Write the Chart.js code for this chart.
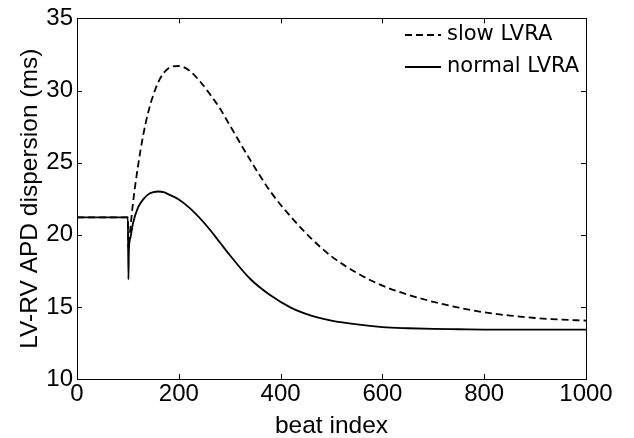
<!DOCTYPE html>
<html lang="en">
  <head>
    <meta charset="UTF-8" />
    <title>LV-RV APD dispersion</title>
    <script src="https://cdn.jsdelivr.net/npm/chart.js"></script>
    <style>
      * {
        margin: 0;
        padding: 0;
      }
      body {
        background: #fff;
      }
    </style>
  </head>
  <body>
    <canvas id="chart" width="634" height="438"></canvas>

    <script>
      // beat index samples (shared by both curves)
      var beats = [0, 100, 101, 102, 105, 110, 120, 130, 140, 150, 160, 170, 180, 200, 220, 240, 260, 280, 300,
        340, 380, 420, 460, 500, 550, 600, 650, 700, 750, 800, 850, 900, 950, 1000];

      // dispersion (ms), slow LVRA (dashed)
      var slowLVRA = [21.2, 21.2, 19.0, 19.3, 20.5, 22.2, 24.8, 26.9, 28.5, 29.7, 30.6, 31.2, 31.55, 31.7, 31.4, 30.7, 29.8, 28.8, 27.6,
        25.2, 23.0, 21.25, 19.75, 18.5, 17.35, 16.47, 15.85, 15.35, 14.95, 14.62, 14.4, 14.23, 14.12, 14.05];

      // dispersion (ms), normal LVRA (solid)
      var normalLVRA = [21.2, 21.2, 16.9, 19.0, 19.8, 20.8, 21.9, 22.45, 22.8, 22.95, 23.0, 22.95, 22.8, 22.45, 21.9, 21.2, 20.4, 19.5, 18.6,
        16.95, 15.8, 14.95, 14.4, 14.05, 13.78, 13.6, 13.52, 13.47, 13.45, 13.43, 13.42, 13.42, 13.42, 13.42];

      var xTicks = [0, 200, 400, 600, 800, 1000];
      var yTicks = [10, 15, 20, 25, 30, 35];

      function toPoints(ys) {
        return beats.map(function (b, i) {
          return { x: b, y: ys[i] };
        });
      }

      var tickFont = { family: "'Liberation Sans', Arial, sans-serif", size: 24 };
      var titleFont = { family: "'Liberation Sans', Arial, sans-serif", size: 24.5 };

      // box round the plot, inward ticks on all sides, and the legend
      var matlabFrame = {
        id: "matlabFrame",
        afterDraw: function (chart) {
          var ctx = chart.ctx;
          var a = chart.chartArea;
          var xs = chart.scales.x;
          var ys = chart.scales.y;
          ctx.save();
          ctx.strokeStyle = "#000";
          ctx.lineWidth = 1;
          ctx.setLineDash([]);
          ctx.strokeRect(Math.round(a.left) + 0.5, Math.round(a.top) + 0.5,
            Math.round(a.right - a.left), Math.round(a.bottom - a.top));
          var len = 5;
          ctx.beginPath();
          xTicks.forEach(function (v) {
            var px = Math.round(xs.getPixelForValue(v)) + 0.5;
            ctx.moveTo(px, a.bottom);
            ctx.lineTo(px, a.bottom - len);
            ctx.moveTo(px, a.top);
            ctx.lineTo(px, a.top + len);
          });
          yTicks.forEach(function (v) {
            var py = Math.round(ys.getPixelForValue(v)) + 0.5;
            ctx.moveTo(a.left, py);
            ctx.lineTo(a.left + len, py);
            ctx.moveTo(a.right, py);
            ctx.lineTo(a.right - len, py);
          });
          ctx.stroke();

          // legend
          ctx.font = "21px 'DejaVu Sans', sans-serif";
          ctx.textBaseline = "middle";
          ctx.fillStyle = "#000";
          chart.data.datasets.forEach(function (ds, i) {
            var y = 35 + i * 32;
            ctx.lineWidth = ds.borderWidth;
            ctx.setLineDash(ds.borderDash || []);
            ctx.beginPath();
            ctx.moveTo(405, y);
            ctx.lineTo(441, y);
            ctx.stroke();
            ctx.fillText(ds.label, 447, y);
          });
          ctx.restore();
        },
      };

      new Chart(document.getElementById("chart").getContext("2d"), {
        type: "line",
        data: {
          datasets: [
            {
              label: "slow LVRA",
              data: toPoints(slowLVRA),
              borderColor: "#000",
              borderWidth: 1.8,
              borderDash: [7, 4],
              pointRadius: 0,
              fill: false,
              cubicInterpolationMode: "monotone",
            },
            {
              label: "normal LVRA",
              data: toPoints(normalLVRA),
              borderColor: "#000",
              borderWidth: 1.8,
              pointRadius: 0,
              fill: false,
              cubicInterpolationMode: "monotone",
            },
          ],
        },
        options: {
          responsive: false,
          animation: false,
          layout: { padding: { top: 15, right: 48, left: 0, bottom: 0 } },
          plugins: {
            legend: { display: false },
            tooltip: { enabled: false },
          },
          scales: {
            x: {
              type: "linear",
              min: 0,
              max: 1000,
              afterFit: function (s) {
                s.height = 59;
              },
              afterBuildTicks: function (s) {
                s.ticks = xTicks.map(function (v) {
                  return { value: v };
                });
              },
              grid: { drawOnChartArea: false, drawTicks: false },
              border: { display: false },
              ticks: {
                color: "#000",
                font: tickFont,
                padding: 1,
                maxRotation: 0,
                autoSkip: false,
                callback: function (v) {
                  return String(v);
                },
              },
              title: {
                display: true,
                text: "beat index",
                color: "#000",
                font: titleFont,
                padding: { top: 0, bottom: -3 },
              },
            },
            y: {
              type: "linear",
              min: 10,
              max: 35,
              afterFit: function (s) {
                s.width = 77;
              },
              afterBuildTicks: function (s) {
                s.ticks = yTicks.map(function (v) {
                  return { value: v };
                });
              },
              grid: { drawOnChartArea: false, drawTicks: false },
              border: { display: false },
              ticks: { color: "#000", font: tickFont, padding: 4, autoSkip: false },
              title: {
                display: true,
                text: "LV-RV APD dispersion (ms)",
                color: "#000",
                font: titleFont,
                padding: { top: 16, bottom: 0 },
              },
            },
          },
        },
        plugins: [matlabFrame],
      });
    </script>
  </body>
</html>
